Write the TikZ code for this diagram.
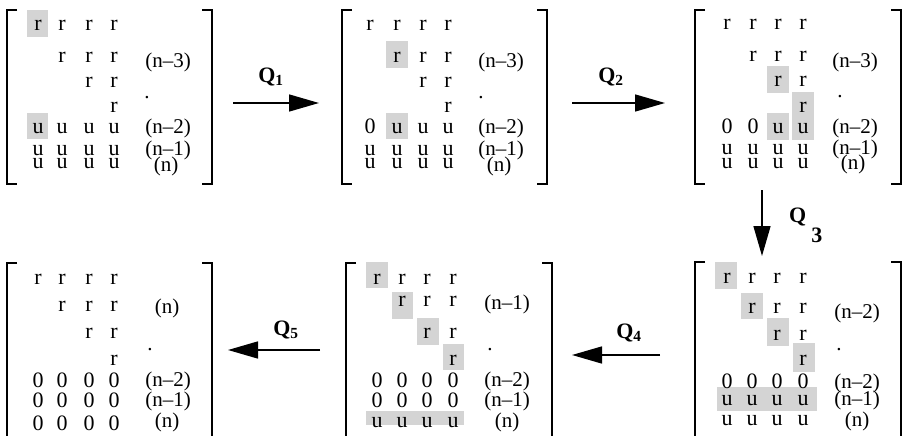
\documentclass[tikz,border=0pt]{standalone}
\usepackage{fontspec}
\setmainfont{Liberation Serif}
\usetikzlibrary{arrows.meta}
\tikzset{
  brk/.style={line width=1.4pt, line cap=butt, line join=miter},
  hl/.style={fill=black!17, draw=none},
  ent/.style={anchor=base, inner sep=0pt, font=\fontsize{22}{24}\selectfont},
  lab/.style={anchor=base, inner sep=0pt, font=\fontsize{21}{24}\selectfont},
  qlab/.style={anchor=base, inner sep=0pt, font=\fontsize{22}{24}\selectfont\bfseries},
  qarr/.style={line width=1.5pt, -{Triangle[length=30pt,width=17pt]}},
}
\newcommand\mybrackets[4]{%
  \draw[brk] (#1+10,#2) -- (#1,#2) -- (#1,#4) -- (#1+10,#4);
  \draw[brk] (#3-10,#2) -- (#3,#2) -- (#3,#4) -- (#3-10,#4);}
\newcommand\entrow[3]{%
  \foreach \xx/\ee [count=\ii] in {#3} {\node[ent] (#1c\ii) at (\xx,#2) {\ee};}}
\begin{document}
\begin{tikzpicture}[x=1pt,y=-1pt]
\useasboundingbox (0,0) rectangle (903,436);

% ---------- shading ----------
\fill[hl] (27,10) rectangle (48,37);
\fill[hl] (27,113) rectangle (48,139);
\fill[hl] (386,41) rectangle (408,68);
\fill[hl] (386,113) rectangle (408,139);
\fill[hl] (767,66) rectangle (789,93);
\fill[hl] (792,92) rectangle (814,140);
\fill[hl] (767,113) rectangle (789,140);
\fill[hl] (715,262) rectangle (737,289);
\fill[hl] (741,293) rectangle (763,319);
\fill[hl] (767,318) rectangle (789,346);
\fill[hl] (793,343) rectangle (815,372);
\fill[hl] (717,387) rectangle (817,411);
\fill[hl] (366,262) rectangle (388,288);
\fill[hl] (392,292) rectangle (413,319);
\fill[hl] (417,318) rectangle (439,345);
\fill[hl] (443,344) rectangle (464,370);
\fill[hl] (366,411) rectangle (464,425);

% ---------- brackets ----------
\mybrackets{7}{10}{212}{184}
\mybrackets{342}{10}{547}{184}
\mybrackets{695}{10}{901}{184}
\mybrackets{695}{262}{901}{440}
\mybrackets{346}{263}{552}{440}
\mybrackets{7}{263}{212}{440}

% ---------- matrix A (top left) ----------
\entrow{mAa}{31}{38/r,62/r,89/r,114/r}
\entrow{mAb}{63}{62/r,89/r,114/r}
\entrow{mAc}{88}{89/r,114/r}
\entrow{mAd}{113}{114/r}
\entrow{mAe}{133}{38/u,62/u,89/u,114/u}
\entrow{mAf}{155}{38/u,62/u,89/u,114/u}
\entrow{mAg}{168}{38/u,62/u,89/u,114/u}
\node[lab] (mAl1) at (168,68) {(n\textendash3)};
\node[lab] (mAl2) at (147,99) {.};
\node[lab] (mAl3) at (168,133) {(n\textendash2)};
\node[lab] (mAl4) at (168,155) {(n\textendash1)};
\node[lab] (mAl5) at (166,171) {(n)};

% ---------- matrix B (top middle) ----------
\entrow{mBa}{31}{370/r,397/r,423/r,448/r}
\entrow{mBb}{63}{397/r,423/r,448/r}
\entrow{mBc}{88}{423/r,448/r}
\entrow{mBd}{113}{448/r}
\entrow{mBe}{133}{370/0,397/u,423/u,448/u}
\entrow{mBf}{155}{370/u,397/u,423/u,448/u}
\entrow{mBg}{168}{370/u,397/u,423/u,448/u}
\node[lab] (mBl1) at (501,68) {(n\textendash3)};
\node[lab] (mBl2) at (481,99) {.};
\node[lab] (mBl3) at (501,133) {(n\textendash2)};
\node[lab] (mBl4) at (501,155) {(n\textendash1)};
\node[lab] (mBl5) at (499,171) {(n)};

% ---------- matrix C (top right) ----------
\entrow{mCa}{30}{727/r,753/r,778/r,803/r}
\entrow{mCb}{62}{753/r,778/r,803/r}
\entrow{mCc}{87}{778/r,803/r}
\entrow{mCd}{113}{803/r}
\entrow{mCe}{133}{727/0,753/0,778/u,803/u}
\entrow{mCf}{154}{727/u,753/u,778/u,803/u}
\entrow{mCg}{168}{727/u,753/u,778/u,803/u}
\node[lab] (mCl1) at (855,68) {(n\textendash3)};
\node[lab] (mCl2) at (840,98) {.};
\node[lab] (mCl3) at (855,133) {(n\textendash2)};
\node[lab] (mCl4) at (855,154) {(n\textendash1)};
\node[lab] (mCl5) at (853,169) {(n)};

% ---------- matrix D (bottom right) ----------
\entrow{mDa}{283}{727/r,752/r,777/r,803/r}
\entrow{mDb}{313}{752/r,777/r,803/r}
\entrow{mDc}{340}{777/r,803/r}
\entrow{mDd}{365}{803/r}
\entrow{mDe}{388}{727/0,752/0,777/0,803/0}
\entrow{mDf}{405}{727/u,752/u,777/u,803/u}
\entrow{mDg}{425}{727/u,752/u,777/u,803/u}
\node[lab] (mDl1) at (857,318) {(n\textendash2)};
\node[lab] (mDl2) at (839,350) {.};
\node[lab] (mDl3) at (857,388) {(n\textendash2)};
\node[lab] (mDl4) at (857,405) {(n\textendash1)};
\node[lab] (mDl5) at (857,426) {(n)};

% ---------- matrix E (bottom middle) ----------
\entrow{mEa}{284}{377/r,402/r,427/r,453/r}
\entrow{mEb}{306}{402/r,427/r,453/r}
\entrow{mEc}{338}{427/r,453/r}
\entrow{mEd}{365}{453/r}
\entrow{mEe}{387}{377/0,402/0,427/0,453/0}
\entrow{mEf}{407}{377/0,402/0,427/0,453/0}
\entrow{mEg}{427}{377/u,402/u,427/u,453/u}
\node[lab] (mEl1) at (507,309) {(n\textendash1)};
\node[lab] (mEl2) at (490,350) {.};
\node[lab] (mEl3) at (507,386) {(n\textendash2)};
\node[lab] (mEl4) at (507,406) {(n\textendash1)};
\node[lab] (mEl5) at (507,427) {(n)};

% ---------- matrix F (bottom left) ----------
\entrow{mFa}{284}{38/r,62/r,89/r,114/r}
\entrow{mFb}{311}{62/r,89/r,114/r}
\entrow{mFc}{338}{89/r,114/r}
\entrow{mFd}{365}{114/r}
\entrow{mFe}{387}{38/0,62/0,89/0,114/0}
\entrow{mFf}{407}{38/0,62/0,89/0,114/0}
\entrow{mFg}{430}{38/0,62/0,89/0,114/0}
\node[lab] (mFl1) at (167,313) {(n)};
\node[lab] (mFl2) at (150,350) {.};
\node[lab] (mFl3) at (168,386) {(n\textendash2)};
\node[lab] (mFl4) at (168,406) {(n\textendash1)};
\node[lab] (mFl5) at (167,427) {(n)};

% ---------- arrows ----------
\coordinate (a1s) at (233,103); \coordinate (a1e) at (319,103);
\coordinate (a2s) at (572,103); \coordinate (a2e) at (665,103);
\coordinate (a3s) at (762,190); \coordinate (a3e) at (762,256);
\coordinate (a4s) at (660,355); \coordinate (a4e) at (572,355);
\coordinate (a5s) at (320,350); \coordinate (a5e) at (228,350);
\draw[qarr] (a1s) -- (a1e);
\draw[qarr] (a2s) -- (a2e);
\draw[qarr] (a3s) -- (a3e);
\draw[qarr] (a4s) -- (a4e);
\draw[qarr] (a5s) -- (a5e);
\node[qlab] (q1) at (271,82) {Q\textsubscript{1}};
\node[qlab] (q2) at (611,82) {Q\textsubscript{2}};
\node[qlab, anchor=base west] (q3) at (789,222) {Q\hspace{5pt}\raisebox{-20pt}{3}};
\node[qlab] (q4) at (629,338) {Q\textsubscript{4}};
\node[qlab] (q5) at (286,335) {Q\textsubscript{5}};
\end{tikzpicture}
\end{document}
